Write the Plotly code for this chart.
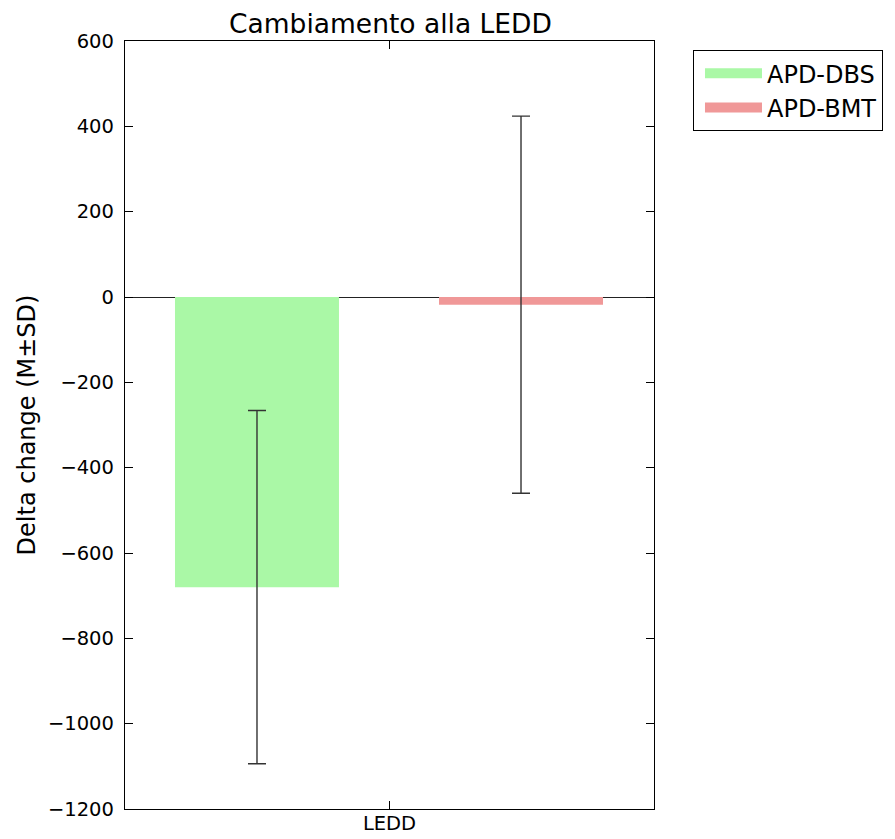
import plotly.graph_objects as go

categories = ["LEDD"]
groups = ["APD-DBS", "APD-BMT"]
means = [-680, -18]
sds = [414, 442]
colors = ["rgb(170,248,166)", "rgb(240,152,152)"]
offsets = [-0.4055, 0.0936]
bar_width = 0.31

fig = go.Figure()
for g, m, s, c, o in zip(groups, means, sds, colors, offsets):
    fig.add_trace(go.Bar(
        x=categories, y=[m], name=g, marker=dict(color=c, line=dict(width=0)),
        width=bar_width, offset=o, showlegend=False,
        error_y=dict(type="data", array=[s], visible=True, color="#333333", thickness=1.4, width=9),
    ))
# legend patches (wide coloured swatches like the original)
for g, c in zip(groups, colors):
    fig.add_trace(go.Scatter(x=[None], y=[None], mode="lines", name=g,
                             line=dict(color=c, width=18)))

font = "DejaVu Sans, sans-serif"
W, H = 887, 831
L, T, R, B = 117, 33, 241, 30
fig.update_layout(
    width=W, height=H,
    margin=dict(l=L, r=R, t=T, b=B, autoexpand=False),
    plot_bgcolor="white", paper_bgcolor="white",
    barmode="overlay",
    font=dict(family=font, size=19.5, color="black"),
    title=dict(text="Cambiamento alla LEDD", x=382.5 / W, xanchor="center",
               y=1 - 16 / H, yanchor="middle", font=dict(size=26.5)),
    showlegend=True,
    legend=dict(x=1.0737, y=0.988, xanchor="left", yanchor="top",
                bordercolor="black", borderwidth=1, bgcolor="white",
                font=dict(size=24), itemwidth=57, indentation=6, tracegroupgap=0),
    xaxis=dict(range=[-0.5, 0.5], showline=True, linecolor="black", linewidth=1.3,
               mirror="ticks", ticks="inside", ticklen=8, tickcolor="black",
               tickfont=dict(size=19.5), showgrid=False, ticklabelstandoff=-4,
               automargin=False),
    yaxis=dict(range=[-1200, 600], dtick=200, showline=True, linecolor="black", linewidth=1.3,
               mirror="ticks", ticks="inside", ticklen=8, tickcolor="black",
               tickfont=dict(size=19.5), showgrid=False, zeroline=True,
               zerolinecolor="#222222", zerolinewidth=1.2, ticklabelstandoff=6,
               automargin=False,
               title=dict(text="Delta change (M±SD)", font=dict(size=24), standoff=5)),
)
fig.write_html("out.html")
